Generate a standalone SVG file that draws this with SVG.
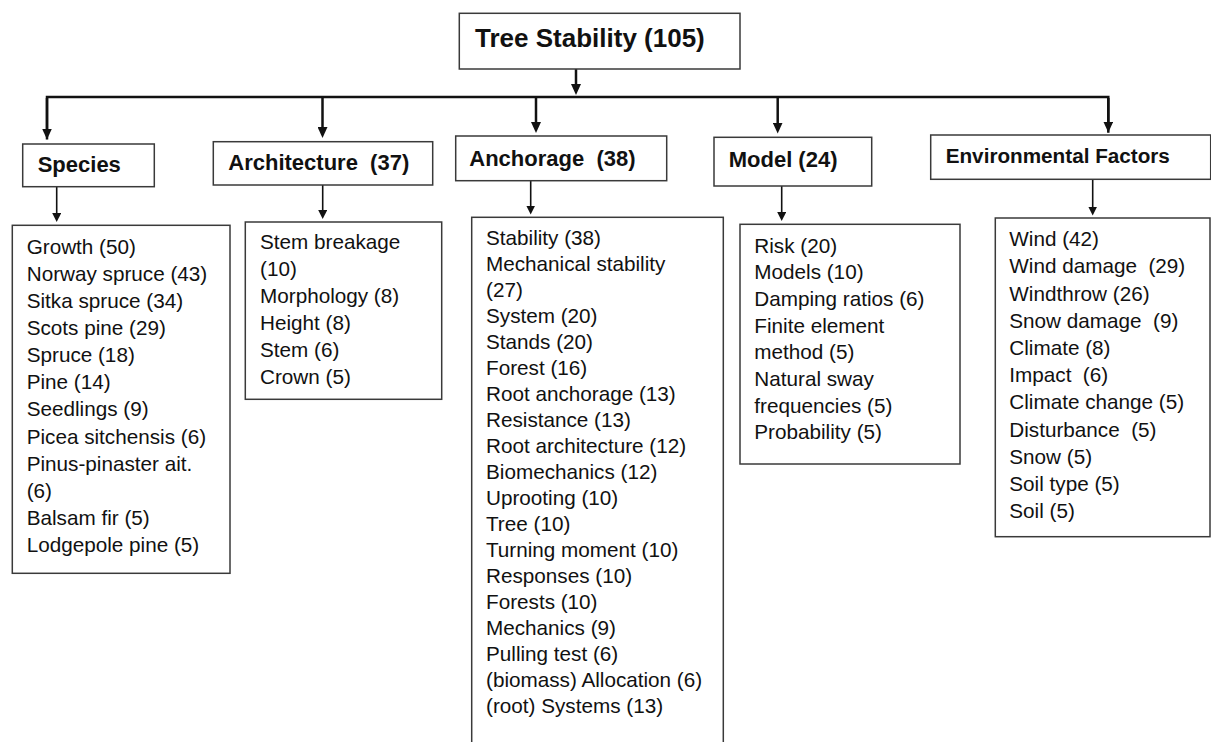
<svg xmlns="http://www.w3.org/2000/svg" width="1211" height="742" viewBox="0 0 1211 742">
<style>
  .box{fill:#fff;stroke:#3a3a3a;stroke-width:1.5}
  .hd{font-family:"Liberation Sans",Arial,sans-serif;font-weight:bold;font-size:22px;fill:#111;white-space:pre}
  .li{font-family:"Liberation Sans",Arial,sans-serif;font-size:20.7px;fill:#111;white-space:pre}
  .main{stroke:#111;stroke-width:2.5;fill:none}
  .stub{stroke:#111;stroke-width:1.6;fill:none}
</style>
<defs>
  <marker id="ah" markerUnits="userSpaceOnUse" viewBox="0 0 11 10" markerWidth="11" markerHeight="10" refX="5" refY="5" orient="auto">
    <path d="M0,0 L11,5 L0,10 z" fill="#111"/>
  </marker>
  <marker id="as" markerUnits="userSpaceOnUse" viewBox="0 0 9 9" markerWidth="9" markerHeight="9" refX="4" refY="4.5" orient="auto">
    <path d="M0,0 L9,4.5 L0,9 z" fill="#111"/>
  </marker>
</defs>

<g id="connectors">
  <line class="main" x1="576" y1="69" x2="576" y2="89" marker-end="url(#ah)"/>
  <path class="main" d="M47,139.5 V97 H1108.3 V132.7" stroke-linejoin="miter" marker-end="none"/>
  <line class="main" x1="47" y1="98" x2="47" y2="133.5" marker-end="url(#ah)"/>
  <line class="main" x1="322.5" y1="97" x2="322.5" y2="132" marker-end="url(#ah)"/>
  <line class="main" x1="536" y1="97" x2="536" y2="127" marker-end="url(#ah)"/>
  <line class="main" x1="777.7" y1="97" x2="777.7" y2="127.5" marker-end="url(#ah)"/>
  <line class="main" x1="1108.3" y1="98" x2="1108.3" y2="126.5" marker-end="url(#ah)"/>
  <line class="stub" x1="56.7" y1="186.7" x2="56.7" y2="217" marker-end="url(#as)"/>
  <line class="stub" x1="322.7" y1="185" x2="322.7" y2="214" marker-end="url(#as)"/>
  <line class="stub" x1="530.7" y1="180.7" x2="530.7" y2="209.5" marker-end="url(#as)"/>
  <line class="stub" x1="781.7" y1="186" x2="781.7" y2="216" marker-end="url(#as)"/>
  <line class="stub" x1="1092.7" y1="179.3" x2="1092.7" y2="210.5" marker-end="url(#as)"/>
</g>

<g id="title">
  <rect class="box" x="459.3" y="13.3" width="280.7" height="55.7"/>
  <text class="hd" x="475" y="46.7" style="font-size:26px">Tree Stability (105)</text>
</g>

<g id="species">
  <rect class="box" x="22.7" y="144" width="131.6" height="42.7"/>
  <text class="hd" x="37.7" y="171.7">Species</text>
</g>
<g id="architecture">
  <rect class="box" x="213.3" y="141.7" width="219.4" height="43.3"/>
  <text class="hd" x="228.3" y="170">Architecture  (37)</text>
</g>
<g id="anchorage">
  <rect class="box" x="455.7" y="136" width="211" height="44.7"/>
  <text class="hd" x="469.3" y="166">Anchorage  (38)</text>
</g>
<g id="model">
  <rect class="box" x="714" y="137.3" width="157.7" height="48.7"/>
  <text class="hd" x="728.7" y="167.3">Model (24)</text>
</g>
<g id="environmental">
  <rect class="box" x="930.7" y="135" width="280" height="44.3"/>
  <text class="hd" x="945.7" y="162.7" style="font-size:20.7px">Environmental Factors</text>
</g>

<g id="species-list">
  <rect class="box" x="12.3" y="225.3" width="217.7" height="348"/>
  <text class="li" x="26.7">
    <tspan x="26.7" y="254">Growth (50)</tspan>
    <tspan x="26.7" y="281.1">Norway spruce (43)</tspan>
    <tspan x="26.7" y="308.1">Sitka spruce (34)</tspan>
    <tspan x="26.7" y="335.2">Scots pine (29)</tspan>
    <tspan x="26.7" y="362.3">Spruce (18)</tspan>
    <tspan x="26.7" y="389.4">Pine (14)</tspan>
    <tspan x="26.7" y="416.4">Seedlings (9)</tspan>
    <tspan x="26.7" y="443.5">Picea sitchensis (6)</tspan>
    <tspan x="26.7" y="470.6">Pinus-pinaster ait.</tspan>
    <tspan x="26.7" y="497.6">(6)</tspan>
    <tspan x="26.7" y="524.7">Balsam fir (5)</tspan>
    <tspan x="26.7" y="551.8">Lodgepole pine (5)</tspan>
  </text>
</g>

<g id="architecture-list">
  <rect class="box" x="245.3" y="222" width="196.4" height="177.3"/>
  <text class="li">
    <tspan x="260" y="249.3">Stem breakage</tspan>
    <tspan x="260" y="276.3">(10)</tspan>
    <tspan x="260" y="303.3">Morphology (8)</tspan>
    <tspan x="260" y="330.3">Height (8)</tspan>
    <tspan x="260" y="357.3">Stem (6)</tspan>
    <tspan x="260" y="384.3">Crown (5)</tspan>
  </text>
</g>

<g id="anchorage-list">
  <rect class="box" x="471.7" y="217.3" width="251.6" height="540"/>
  <text class="li">
    <tspan x="486" y="245">Stability (38)</tspan>
    <tspan x="486" y="271">Mechanical stability</tspan>
    <tspan x="486" y="297">(27)</tspan>
    <tspan x="486" y="323.1">System (20)</tspan>
    <tspan x="486" y="349.1">Stands (20)</tspan>
    <tspan x="486" y="375.1">Forest (16)</tspan>
    <tspan x="486" y="401.1">Root anchorage (13)</tspan>
    <tspan x="486" y="427.1">Resistance (13)</tspan>
    <tspan x="486" y="453.2">Root architecture (12)</tspan>
    <tspan x="486" y="479.2">Biomechanics (12)</tspan>
    <tspan x="486" y="505.2">Uprooting (10)</tspan>
    <tspan x="486" y="531.2">Tree (10)</tspan>
    <tspan x="486" y="557.2">Turning moment (10)</tspan>
    <tspan x="486" y="583.3">Responses (10)</tspan>
    <tspan x="486" y="609.3">Forests (10)</tspan>
    <tspan x="486" y="635.3">Mechanics (9)</tspan>
    <tspan x="486" y="661.3">Pulling test (6)</tspan>
    <tspan x="486" y="687.3">(biomass) Allocation (6)</tspan>
    <tspan x="486" y="713.4">(root) Systems (13)</tspan>
  </text>
</g>

<g id="model-list">
  <rect class="box" x="740" y="224.3" width="220" height="239.7"/>
  <text class="li">
    <tspan x="754.3" y="252.7">Risk (20)</tspan>
    <tspan x="754.3" y="279.4">Models (10)</tspan>
    <tspan x="754.3" y="306">Damping ratios (6)</tspan>
    <tspan x="754.3" y="332.7">Finite element</tspan>
    <tspan x="754.3" y="359.3">method (5)</tspan>
    <tspan x="754.3" y="386">Natural sway</tspan>
    <tspan x="754.3" y="412.7">frequencies (5)</tspan>
    <tspan x="754.3" y="439.3">Probability (5)</tspan>
  </text>
</g>

<g id="environmental-list">
  <rect class="box" x="995.3" y="218" width="214.7" height="318.7"/>
  <text class="li">
    <tspan x="1009.3" y="246">Wind (42)</tspan>
    <tspan x="1009.3" y="273.2">Wind damage  (29)</tspan>
    <tspan x="1009.3" y="300.5">Windthrow (26)</tspan>
    <tspan x="1009.3" y="327.7">Snow damage  (9)</tspan>
    <tspan x="1009.3" y="354.9">Climate (8)</tspan>
    <tspan x="1009.3" y="382.2">Impact  (6)</tspan>
    <tspan x="1009.3" y="409.4">Climate change (5)</tspan>
    <tspan x="1009.3" y="436.6">Disturbance  (5)</tspan>
    <tspan x="1009.3" y="463.8">Snow (5)</tspan>
    <tspan x="1009.3" y="491.1">Soil type (5)</tspan>
    <tspan x="1009.3" y="518.3">Soil (5)</tspan>
  </text>
</g>
</svg>
